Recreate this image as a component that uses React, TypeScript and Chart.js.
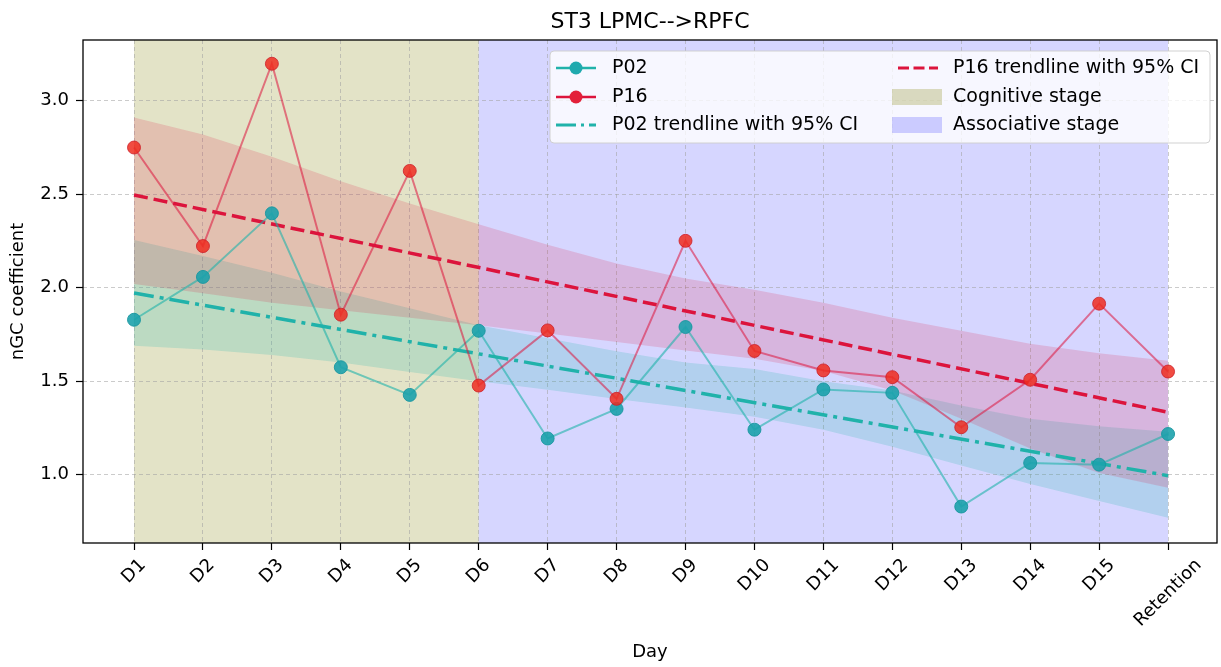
import React, { useEffect, useRef } from 'react';
import { Chart, registerables } from 'chart.js';

Chart.register(...registerables);

// ---------- data ----------
const dayLabels = ['D1', 'D2', 'D3', 'D4', 'D5', 'D6', 'D7', 'D8', 'D9', 'D10', 'D11', 'D12', 'D13', 'D14', 'D15', 'Retention'];
const p02Values = [1.829, 2.058, 2.398, 1.575, 1.427, 1.770, 1.194, 1.352, 1.790, 1.241, 1.456, 1.438, 0.830, 1.063, 1.054, 1.218];
const p16Values = [2.750, 2.223, 3.198, 1.856, 2.625, 1.477, 1.772, 1.406, 2.251, 1.662, 1.558, 1.522, 1.254, 1.508, 1.915, 1.552];
const trendDays = [0, 15];
const p02Trend = [1.972, 0.995];
const p16Trend = [2.496, 1.334];
const p02Upper = [2.255, 2.17, 2.08, 1.98, 1.89, 1.80, 1.73, 1.66, 1.60, 1.565, 1.50, 1.45, 1.37, 1.30, 1.26, 1.23];
const p02Lower = [1.69, 1.67, 1.64, 1.60, 1.55, 1.50, 1.455, 1.405, 1.36, 1.31, 1.24, 1.15, 1.05, 0.95, 0.86, 0.77];
const p16Upper = [2.91, 2.82, 2.70, 2.57, 2.45, 2.34, 2.23, 2.13, 2.05, 1.99, 1.92, 1.84, 1.77, 1.70, 1.65, 1.61];
const p16Lower = [2.02, 1.97, 1.92, 1.88, 1.84, 1.80, 1.755, 1.71, 1.665, 1.62, 1.555, 1.45, 1.30, 1.14, 1.01, 0.93];
const stageNames = ['Cognitive stage', 'Associative stage'];
const stageStart = [0, 5];
const stageEnd = [5, 15];
const yTickValues = [1.0, 1.5, 2.0, 2.5, 3.0];
const chartTitle = 'ST3 LPMC-->RPFC';

// ---------- styles ----------
const FONT = '"DejaVu Sans", "Liberation Sans", sans-serif';
const TEAL = '#20b2aa';
const CRIMSON = '#dc143c';
const stageColors = ['rgba(128,128,0,0.22)', 'rgba(0,0,255,0.16)'];
const gridColor = 'rgba(160,160,160,0.55)';

const pts = (xs: number[], ys: number[]) => ys.map((y, i) => ({ x: xs[i], y }));
const idx = dayLabels.map((_, i) => i);

const spansPlugin = {
  id: 'spans',
  beforeDraw(chart: any) {
    const { ctx, chartArea } = chart;
    const xs = chart.scales.x;
    ctx.save();
    for (let i = 0; i < stageNames.length; i++) {
      const x0 = xs.getPixelForValue(stageStart[i]);
      const x1 = xs.getPixelForValue(stageEnd[i]);
      ctx.fillStyle = stageColors[i];
      ctx.fillRect(x0, chartArea.top, x1 - x0, chartArea.bottom - chartArea.top);
    }
    ctx.restore();
  },
};

const decorPlugin = {
  id: 'decor',
  afterDraw(chart: any) {
    const { ctx, chartArea } = chart;
    const xs = chart.scales.x;
    ctx.save();
    // frame
    ctx.strokeStyle = '#000';
    ctx.lineWidth = 1.3;
    ctx.setLineDash([]);
    ctx.strokeRect(chartArea.left, chartArea.top, chartArea.right - chartArea.left, chartArea.bottom - chartArea.top);

    // title
    ctx.fillStyle = '#000';
    ctx.font = `22px ${FONT}`;
    ctx.textAlign = 'center';
    ctx.textBaseline = 'alphabetic';
    ctx.fillText(chartTitle, (chartArea.left + chartArea.right) / 2, 28);

    // rotated x tick labels (centered like matplotlib)
    ctx.font = `18px ${FONT}`;
    const top = chartArea.bottom + 12;
    dayLabels.forEach((lab, i) => {
      const x = xs.getPixelForValue(i);
      const w = ctx.measureText(lab).width;
      const h = 21;
      const s = (w + h) * Math.SQRT1_2;
      ctx.save();
      ctx.translate(x, top + s / 2);
      ctx.rotate(-Math.PI / 4);
      ctx.textAlign = 'center';
      ctx.textBaseline = 'middle';
      ctx.fillText(lab, 0, 0);
      ctx.restore();
    });

    // legend
    const bx = 550, by = 51, bw = 660, bh = 92;
    ctx.beginPath();
    ctx.roundRect(bx, by, bw, bh, 4);
    ctx.fillStyle = 'rgba(255,255,255,0.8)';
    ctx.fill();
    ctx.strokeStyle = 'rgba(204,204,204,0.9)';
    ctx.lineWidth = 1;
    ctx.stroke();

    const rows = [68, 97, 125];
    const c1h0 = 556, c1h1 = 596, c1t = 612;
    const c2h0 = 898, c2h1 = 938, c2t = 953;
    const line = (x0: number, x1: number, y: number, color: string, w: number, dash: number[]) => {
      ctx.save();
      ctx.beginPath();
      ctx.setLineDash(dash);
      ctx.strokeStyle = color;
      ctx.lineWidth = w;
      ctx.lineCap = 'butt';
      ctx.moveTo(x0, y);
      ctx.lineTo(x1, y);
      ctx.stroke();
      ctx.restore();
    };
    const dot = (x: number, y: number, fill: string) => {
      ctx.beginPath();
      ctx.arc(x, y, 6.5, 0, Math.PI * 2);
      ctx.fillStyle = fill;
      ctx.fill();
    };
    line(c1h0, c1h1, rows[0], TEAL, 2.7, []);
    dot((c1h0 + c1h1) / 2, rows[0], '#1fa9ae');
    line(c1h0, c1h1, rows[1], CRIMSON, 2.7, []);
    dot((c1h0 + c1h1) / 2, rows[1], '#e3203a');
    line(c1h0, c1h1, rows[2], TEAL, 3, [20, 5, 3, 5]);
    line(c2h0, c2h1, rows[0], CRIMSON, 3, [11, 4.5]);
    ctx.fillStyle = 'rgba(128,128,0,0.25)';
    ctx.fillRect(892, rows[1] - 8, 50, 16);
    ctx.fillStyle = 'rgba(0,0,255,0.18)';
    ctx.fillRect(892, rows[2] - 8, 50, 16);

    ctx.fillStyle = '#000';
    ctx.font = `19px ${FONT}`;
    ctx.textAlign = 'left';
    ctx.textBaseline = 'middle';
    ctx.fillText('P02', c1t, rows[0]);
    ctx.fillText('P16', c1t, rows[1]);
    ctx.fillText('P02 trendline with 95% CI', c1t, rows[2]);
    ctx.fillText('P16 trendline with 95% CI', c2t, rows[0]);
    ctx.fillText(stageNames[0], c2t, rows[1]);
    ctx.fillText(stageNames[1], c2t, rows[2]);
    ctx.restore();
  },
};

export default function App() {
  const canvasRef = useRef<HTMLCanvasElement | null>(null);

  useEffect(() => {
    if (!canvasRef.current) return;
    const chart = new Chart(canvasRef.current, {
      type: 'line',
      data: {
        datasets: [
          {
            label: 'P16',
            data: pts(idx, p16Values),
            borderColor: 'rgba(220,20,60,0.55)',
            borderWidth: 2,
            pointRadius: 6.5,
            pointBackgroundColor: 'rgba(238,45,32,0.85)',
            pointBorderColor: 'rgba(205,30,40,0.8)',
            pointBorderWidth: 1,
            order: 0,
          },
          {
            label: 'P02',
            data: pts(idx, p02Values),
            borderColor: 'rgba(32,178,170,0.6)',
            borderWidth: 2,
            pointRadius: 6.5,
            pointBackgroundColor: 'rgba(28,162,172,0.9)',
            pointBorderColor: 'rgba(25,150,160,0.9)',
            pointBorderWidth: 1,
            order: 1,
          },
          {
            label: 'P16 trendline with 95% CI',
            data: pts(trendDays, p16Trend),
            borderColor: CRIMSON,
            borderWidth: 3.5,
            borderDash: [14, 6],
            borderCapStyle: 'butt',
            pointRadius: 0,
            order: 2,
          },
          {
            label: 'P02 trendline with 95% CI',
            data: pts(trendDays, p02Trend),
            borderColor: TEAL,
            borderWidth: 3.5,
            borderDash: [20, 6, 4, 6],
            borderCapStyle: 'butt',
            pointRadius: 0,
            order: 3,
          },
          {
            label: 'p16 lower',
            data: pts(idx, p16Lower),
            borderWidth: 0,
            borderColor: 'rgba(0,0,0,0)',
            pointRadius: 0,
            fill: false,
            order: 5,
          },
          {
            label: 'p16 upper',
            data: pts(idx, p16Upper),
            borderWidth: 0,
            borderColor: 'rgba(0,0,0,0)',
            pointRadius: 0,
            fill: { target: 4, above: 'rgba(220,20,60,0.17)', below: 'rgba(220,20,60,0.17)' },
            order: 5,
          },
          {
            label: 'p02 lower',
            data: pts(idx, p02Lower),
            borderWidth: 0,
            borderColor: 'rgba(0,0,0,0)',
            pointRadius: 0,
            fill: false,
            order: 6,
          },
          {
            label: 'p02 upper',
            data: pts(idx, p02Upper),
            borderWidth: 0,
            borderColor: 'rgba(0,0,0,0)',
            pointRadius: 0,
            fill: { target: 6, above: 'rgba(32,178,170,0.2)', below: 'rgba(32,178,170,0.2)' },
            order: 6,
          },
        ],
      },
      options: {
        animation: false,
        responsive: true,
        maintainAspectRatio: false,
        devicePixelRatio: 1,
        events: [],
        layout: { autoPadding: false, padding: { top: 40, right: 4, left: 0, bottom: 0 } },
        plugins: {
          legend: { display: false },
          tooltip: { enabled: false },
          title: { display: false },
        },
        scales: {
          x: {
            type: 'linear',
            min: -0.74,
            max: 15.71,
            afterBuildTicks: (s: any) => {
              s.ticks = idx.map((v) => ({ value: v }));
            },
            afterFit: (s: any) => {
              s.height = 124;
            },
            ticks: { display: false },
            grid: {
              color: gridColor,
              lineWidth: 1,
              drawTicks: true,
              tickLength: 7,
              tickColor: '#000',
              tickWidth: 1.2,
              tickBorderDash: [],
            },
            border: { display: false, dash: [4, 3] },
            title: {
              display: true,
              text: 'Day',
              color: '#000',
              font: { family: FONT, size: 18 },
              padding: { top: 0, bottom: 4 },
            },
          },
          y: {
            type: 'linear',
            min: 0.635,
            max: 3.325,
            afterBuildTicks: (s: any) => {
              s.ticks = yTickValues.map((v) => ({ value: v }));
            },
            afterFit: (s: any) => {
              s.width = 83;
            },
            ticks: {
              color: '#000',
              font: { family: FONT, size: 18 },
              padding: 7,
              callback: (v: any) => Number(v).toFixed(1),
            },
            grid: {
              color: gridColor,
              lineWidth: 1,
              drawTicks: true,
              tickLength: 7,
              tickColor: '#000',
              tickWidth: 1.2,
              tickBorderDash: [],
            },
            border: { display: false, dash: [4, 3] },
            title: {
              display: true,
              text: 'nGC coefficient',
              color: '#000',
              font: { family: FONT, size: 18 },
              padding: { top: 8, bottom: 0 },
            },
          },
        },
      } as any,
      plugins: [spansPlugin, decorPlugin],
    });
    return () => chart.destroy();
  }, []);

  return (
    <div style={{ position: 'fixed', left: 0, top: 0, width: 1221, height: 667, background: '#fff' }}>
      <canvas ref={canvasRef} />
    </div>
  );
}
